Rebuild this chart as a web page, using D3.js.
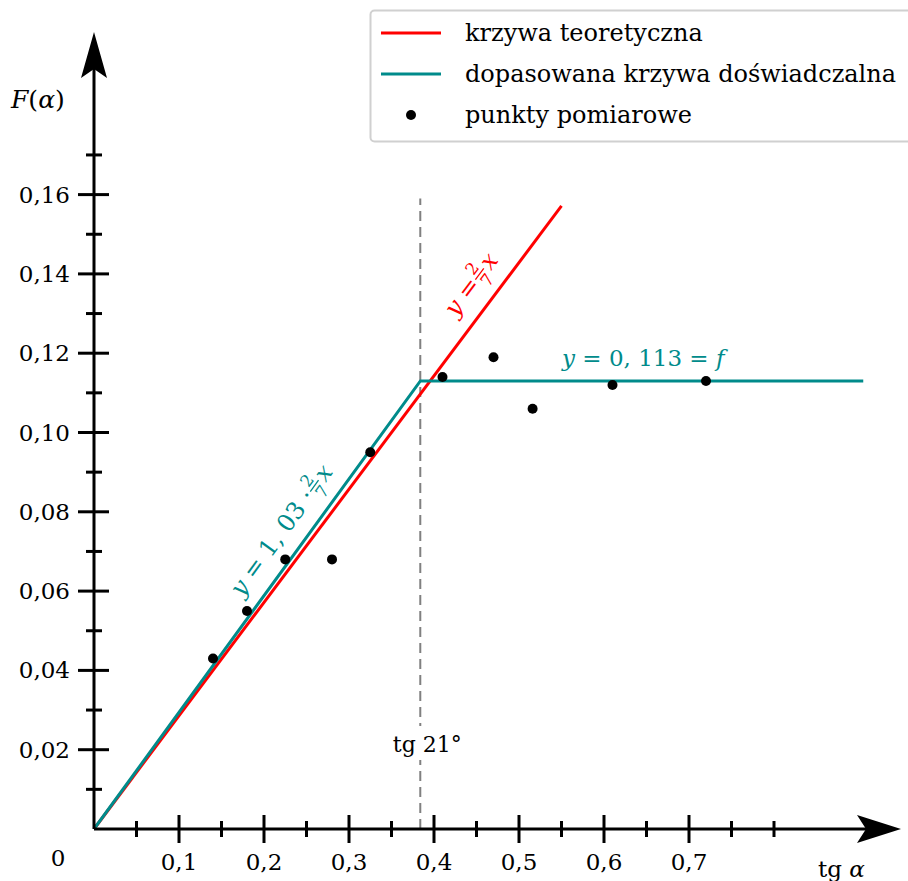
<!DOCTYPE html>
<html>
<head>
<meta charset="utf-8">
<script src="https://cdn.jsdelivr.net/npm/d3@7"></script>
<style>
  body { margin: 0; background: #fff; }
  text { font-family: "DejaVu Serif", "Liberation Serif", serif; }
</style>
</head>
<body>
<div id="chart"></div>
<script>
// measured points (tg alpha, F(alpha))
const tgAlpha = [0.14, 0.18, 0.225, 0.28, 0.325, 0.41, 0.47, 0.516, 0.61, 0.72];
const fAlpha  = [0.043, 0.055, 0.068, 0.068, 0.095, 0.114, 0.119, 0.106, 0.112, 0.113];
const xMajor = [0.1, 0.2, 0.3, 0.4, 0.5, 0.6, 0.7];
const xMinor = [0.05, 0.15, 0.25, 0.35, 0.45, 0.55, 0.65, 0.75, 0.8];
const yMajor = [0.02, 0.04, 0.06, 0.08, 0.10, 0.12, 0.14, 0.16];
const yMinor = [0.01, 0.03, 0.05, 0.07, 0.09, 0.11, 0.13, 0.15, 0.17];
const slope = 2 / 7, fitFactor = 1.03, fLevel = 0.113;
const tg21 = Math.tan(21 * Math.PI / 180);
const legendLabels = ["krzywa teoretyczna", "dopasowana krzywa doświadczalna", "punkty pomiarowe"];

const width = 908, height = 881;
const red = "#ff0000", teal = "#008b8b";

const x = d3.scaleLinear().domain([0, 0.1]).range([94, 179]);
const y = d3.scaleLinear().domain([0, 0.02]).range([829, 749.7]);
const fmt = v => d3.format(".2f")(v).replace(".", ",");

const svg = d3.select("#chart").append("svg")
    .attr("width", width).attr("height", height);

const line = d3.line().x(d => x(d[0])).y(d => y(d[1]));

// vertical dashed line at tg 21
svg.append("line")
    .attr("x1", x(tg21)).attr("x2", x(tg21))
    .attr("y1", y(0)).attr("y2", y(0.159))
    .attr("stroke", "#808080").attr("stroke-width", 2)
    .attr("stroke-dasharray", "10,6");

svg.append("rect").attr("x", x(tg21) - 38).attr("y", 726)
    .attr("width", 90).attr("height", 34).attr("fill", "#fff");
svg.append("text").attr("x", x(tg21) + 7).attr("y", 752)
    .attr("text-anchor", "middle").attr("font-size", 22).text("tg 21°");

// theoretical curve
svg.append("path").datum([[0, 0], [0.55, 0.55 * slope]])
    .attr("d", line).attr("fill", "none")
    .attr("stroke", red).attr("stroke-width", 3);

// fitted curve
const xBreak = fLevel / (fitFactor * slope);
svg.append("path").datum([[0, 0], [xBreak, fLevel], [0.905, fLevel]])
    .attr("d", line).attr("fill", "none")
    .attr("stroke", teal).attr("stroke-width", 3);

// points
svg.selectAll("circle.pt").data(tgAlpha).enter().append("circle")
    .attr("class", "pt")
    .attr("cx", d => x(d)).attr("cy", (d, i) => y(fAlpha[i]))
    .attr("r", 5).attr("fill", "#000");

// axes
const ax = svg.append("g").attr("stroke", "#000").attr("stroke-width", 3);
ax.append("line").attr("x1", x(0)).attr("x2", 870).attr("y1", y(0)).attr("y2", y(0));
ax.append("line").attr("x1", x(0)).attr("x2", x(0)).attr("y1", y(0)).attr("y2", 60);

ax.selectAll("line.xM").data(xMajor).enter().append("line")
    .attr("x1", d => x(d)).attr("x2", d => x(d))
    .attr("y1", y(0) - 14).attr("y2", y(0) + 14);
ax.selectAll("line.xm").data(xMinor).enter().append("line")
    .attr("x1", d => x(d)).attr("x2", d => x(d))
    .attr("y1", y(0) - 8).attr("y2", y(0) + 8);
ax.selectAll("line.yM").data(yMajor).enter().append("line")
    .attr("y1", d => y(d)).attr("y2", d => y(d))
    .attr("x1", x(0) - 16).attr("x2", x(0) + 15);
ax.selectAll("line.ym").data(yMinor).enter().append("line")
    .attr("y1", d => y(d)).attr("y2", d => y(d))
    .attr("x1", x(0) - 8).attr("x2", x(0) + 8);

// arrow heads
const x0 = x(0), y0 = y(0);
svg.append("path")
    .attr("d", `M${x0},32 L${x0 + 13},78 L${x0},69 L${x0 - 13},78 Z`)
    .attr("fill", "#000");
svg.append("path")
    .attr("d", `M901,${y0} L857,${y0 - 14} L866,${y0} L857,${y0 + 14} Z`)
    .attr("fill", "#000");

// tick labels
svg.selectAll("text.xl").data(xMajor).enter().append("text")
    .attr("x", d => x(d)).attr("y", 870).attr("text-anchor", "middle")
    .attr("font-size", 23).text(d => d3.format(".1f")(d).replace(".", ","));
svg.selectAll("text.yl").data(yMajor).enter().append("text")
    .attr("x", 70).attr("y", d => y(d) + 8).attr("text-anchor", "end")
    .attr("font-size", 23).text(fmt);
svg.append("text").attr("x", 58).attr("y", 866).attr("text-anchor", "middle")
    .attr("font-size", 23).text("0");

// axis titles
const fy = svg.append("text").attr("x", 11).attr("y", 108).attr("font-size", 25);
fy.append("tspan").attr("font-style", "italic").text("F");
fy.append("tspan").text("(");
fy.append("tspan").attr("font-style", "italic").text("α");
fy.append("tspan").text(")");
const tx = svg.append("text").attr("x", 818).attr("y", 877).attr("font-size", 23);
tx.append("tspan").text("tg ");
tx.append("tspan").attr("font-style", "italic").text("α");

// rotated formula labels with a stacked fraction 2/7
function formula(g, color, prefix, fs) {
  const t = g.append("text").attr("fill", color).attr("font-size", fs);
  t.append("tspan").attr("font-style", "italic").text("y");
  t.append("tspan").text(prefix);
  const w = t.node().getComputedTextLength();
  g.append("text").attr("x", w + 8).attr("y", -11).attr("fill", color)
      .attr("text-anchor", "middle").attr("font-size", fs * 0.7).text("2");
  g.append("line").attr("x1", w + 1).attr("x2", w + 15)
      .attr("y1", -7.5).attr("y2", -7.5).attr("stroke", color).attr("stroke-width", 1.3);
  g.append("text").attr("x", w + 8).attr("y", 8).attr("fill", color)
      .attr("text-anchor", "middle").attr("font-size", fs * 0.7).text("7");
  g.append("text").attr("x", w + 17).attr("y", 0).attr("fill", color)
      .attr("font-size", fs).attr("font-style", "italic").text("x");
}
const angR = Math.atan((y(0) - y(slope)) / (x(1) - x(0))) * 180 / Math.PI;
const angT = Math.atan((y(0) - y(slope * fitFactor)) / (x(1) - x(0))) * 180 / Math.PI;
formula(svg.append("g").attr("transform", `translate(456,318) rotate(${-angR})`),
    red, " = ", 24);
formula(svg.append("g").attr("transform", `translate(242,598) rotate(${-angT})`),
    teal, " = 1, 03 · ", 24);

const fl = svg.append("text").attr("x", 562).attr("y", 366).attr("fill", teal).attr("font-size", 23);
fl.append("tspan").attr("font-style", "italic").text("y");
fl.append("tspan").text(" = 0, 113 = ");
fl.append("tspan").attr("font-style", "italic").text("f");

// legend
const lg = svg.append("g");
lg.append("rect").attr("x", 370.5).attr("y", 10.5).attr("width", 545).attr("height", 131)
    .attr("rx", 4).attr("fill", "#fff").attr("stroke", "#d0d0d0").attr("stroke-width", 2);
const rowsY = [33, 74, 115];
legendLabels.forEach((lab, i) => {
  if (i < 2) {
    lg.append("line").attr("x1", 381).attr("x2", 441).attr("y1", rowsY[i]).attr("y2", rowsY[i])
        .attr("stroke", i === 0 ? red : teal).attr("stroke-width", 3);
  } else {
    lg.append("circle").attr("cx", 411).attr("cy", rowsY[i]).attr("r", 5).attr("fill", "#000");
  }
  lg.append("text").attr("x", 465).attr("y", rowsY[i] + 8).attr("font-size", 24).text(lab);
});
</script>
</body>
</html>
